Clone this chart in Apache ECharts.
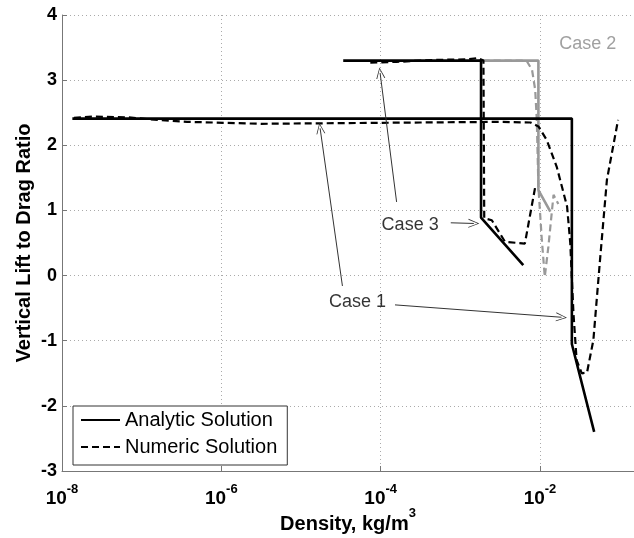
<!DOCTYPE html>
<html>
<head>
<meta charset="utf-8" />
<title>Vertical Lift to Drag Ratio</title>
<script src="https://cdn.jsdelivr.net/npm/echarts@6/dist/echarts.min.js"></script>
<style>
	html, body { margin: 0; padding: 0; background: #fff; }
	#main { width: 634px; height: 538px; }
</style>
</head>
<body>
<div id="main"></div>
<script>
// x values are log10(density in kg/m^3)
var case1AnalyticX = [-7.87, -1.60, -1.60, -1.32];
var case1AnalyticY = [2.41, 2.41, -1.05, -2.40];
var case1NumericX = [-7.85, -7.62, -7.18, -6.90, -6.43, -5.50, -4.50, -3.50, -2.50, -2.12, -2.02, -1.915, -1.79, -1.66, -1.62, -1.58, -1.54, -1.475, -1.41, -1.33, -1.25, -1.16, -1.02];
var case1NumericY = [2.42, 2.44, 2.43, 2.40, 2.36, 2.33, 2.34, 2.35, 2.36, 2.35, 2.29, 2.08, 1.67, 1.06, 0.50, -0.58, -1.30, -1.50, -1.49, -0.99, 0.19, 1.47, 2.39];

var case2AnalyticX = [-2.74, -2.02, -2.02, -1.87];
var case2AnalyticY = [3.30, 3.30, 1.31, 0.98];
var case2NumericX = [-2.72, -2.17, -2.10, -2.06, -2.04, -2.02, -1.98, -1.94, -1.895, -1.83, -1.77];
var case2NumericY = [3.30, 3.30, 3.16, 2.85, 2.39, 1.36, 0.60, -0.02, 0.44, 1.24, 1.10];

var case3AnalyticX = [-4.47, -2.74, -2.74, -2.21];
var case3AnalyticY = [3.30, 3.30, 0.89, 0.16];
var case3NumericX = [-4.13, -3.80, -3.34, -2.90, -2.78, -2.71, -2.70, -2.605, -2.44, -2.19, -2.06];
var case3NumericY = [3.27, 3.28, 3.31, 3.32, 3.34, 3.30, 0.88, 0.85, 0.52, 0.49, 1.36];

var xTickExps = [-8, -6, -4, -2];

var caseLabels = ['Case 1', 'Case 2', 'Case 3'];
var caseLabelX = [-4.29, -1.40, -3.63];
var caseLabelY = [-0.41, 3.55, 0.78];

var arrowFrom = [[-4.48, -0.16], [-3.82, -0.45], [-3.80, 1.13], [-3.12, 0.81]];
var arrowTo = [[-4.76, 2.26], [-1.73, -0.64], [-4.007, 3.11], [-2.83, 0.80]];

var FONT = 'Arial, "Liberation Sans", sans-serif';

function pairs(xs, ys) {
	return xs.map(function (x, i) { return [x, ys[i]]; });
}

function lineSeries(name, xs, ys, color, dashed, z) {
	return {
		name: name,
		type: 'line',
		data: pairs(xs, ys),
		symbol: 'none',
		z: z,
		lineStyle: { color: color, width: dashed ? 2.2 : 2.6, type: dashed ? [7, 4] : 'solid' },
		itemStyle: { color: color }
	};
}

var chart = echarts.init(document.getElementById('main'));

var series = [
	lineSeries('Analytic Solution', case1AnalyticX, case1AnalyticY, '#000', false, 3),
	lineSeries('Numeric Solution', case1NumericX, case1NumericY, '#000', true, 3),
	lineSeries('Analytic Solution', case3AnalyticX, case3AnalyticY, '#000', false, 3),
	lineSeries('Numeric Solution', case3NumericX, case3NumericY, '#000', true, 3),
	lineSeries('Analytic Solution', case2AnalyticX, case2AnalyticY, '#999', false, 2),
	lineSeries('Numeric Solution', case2NumericX, case2NumericY, '#999', true, 2)
];

// annotations: text + arrows
series.push({
	name: 'notes',
	type: 'scatter',
	symbolSize: 0,
	z: 4,
	silent: true,
	data: caseLabels.map(function (t, i) {
		return {
			value: [caseLabelX[i], caseLabelY[i]],
			name: t,
			label: { color: t === 'Case 2' ? '#888' : '#000' }
		};
	}),
	label: {
		show: true,
		position: 'inside',
		formatter: '{b}',
		fontFamily: FONT,
		fontSize: 18
	},
	markLine: {
		silent: true,
		animation: false,
		symbol: ['none', 'path://M5,0 L10,10 L9,10 L5,1.6 L1,10 L0,10 Z'],
		symbolSize: [9, 11],
		lineStyle: { color: '#333', width: 1, type: 'solid' },
		label: { show: false },
		emphasis: { disabled: true },
		data: arrowFrom.map(function (p, i) {
			return [{ coord: p }, { coord: arrowTo[i] }];
		})
	}
});

var option = {
	animation: false,
	backgroundColor: '#fff',
	grid: { left: 62, top: 15, width: 572, height: 456, outerBoundsMode: 'none', containLabel: false },
	legend: {
		data: ['Analytic Solution', 'Numeric Solution'],
		orient: 'vertical',
		left: 73,
		top: 406,
		padding: [3, 10, 7, 7],
		itemGap: 5,
		itemWidth: 39,
		itemHeight: 14,
		borderColor: '#333',
		borderWidth: 1,
		backgroundColor: '#fff',
		selectedMode: false,
		itemStyle: { color: 'rgba(0,0,0,0)', borderWidth: 0, opacity: 0 },
		textStyle: { fontFamily: FONT, fontSize: 20, color: '#000', lineHeight: 22 }
	},
	xAxis: {
		type: 'value',
		min: -8,
		max: -0.82,
		interval: 2,
		name: '{t|Density, kg/m}{s|3}',
		nameLocation: 'middle',
		nameGap: 36,
		nameMoveOverlap: false,
		nameTextStyle: {
			rich: {
				t: { fontFamily: FONT, fontSize: 20, fontWeight: 'bold', color: '#000', lineHeight: 27, verticalAlign: 'bottom' },
				s: { fontFamily: FONT, fontSize: 13, fontWeight: 'bold', color: '#000', lineHeight: 12, verticalAlign: 'top' }
			}
		},
		axisLine: { show: true, onZero: false, lineStyle: { color: '#777', width: 1 } },
		axisTick: { show: true, inside: true, length: 5, lineStyle: { color: '#777' } },
		splitLine: { show: true, lineStyle: { color: '#aaa', type: [1, 3], width: 1 } },
		axisLabel: {
			margin: 12,
			formatter: function (v) {
				if (xTickExps.indexOf(v) < 0) return '';
				return '{b|10}{s|' + v + '}';
			},
			rich: {
				b: { fontFamily: FONT, fontSize: 19, fontWeight: 'bold', color: '#000', lineHeight: 25, verticalAlign: 'bottom' },
				s: { fontFamily: FONT, fontSize: 13, fontWeight: 'bold', color: '#000', lineHeight: 12, verticalAlign: 'top' }
			}
		}
	},
	yAxis: {
		type: 'value',
		min: -3,
		max: 4,
		interval: 1,
		name: 'Vertical Lift to Drag Ratio',
		nameLocation: 'middle',
		nameGap: 28,
		nameMoveOverlap: false,
		nameTextStyle: { fontFamily: FONT, fontSize: 20, fontWeight: 'bold', color: '#000' },
		axisLine: { show: true, lineStyle: { color: '#777', width: 1 } },
		axisTick: { show: true, inside: true, length: 5, lineStyle: { color: '#777' } },
		splitLine: { show: true, lineStyle: { color: '#aaa', type: [1, 3], width: 1 } },
		axisLabel: { margin: 5, fontFamily: FONT, fontSize: 18, fontWeight: 'bold', color: '#000' }
	},
	series: series
};

chart.setOption(option);
</script>
</body>
</html>
